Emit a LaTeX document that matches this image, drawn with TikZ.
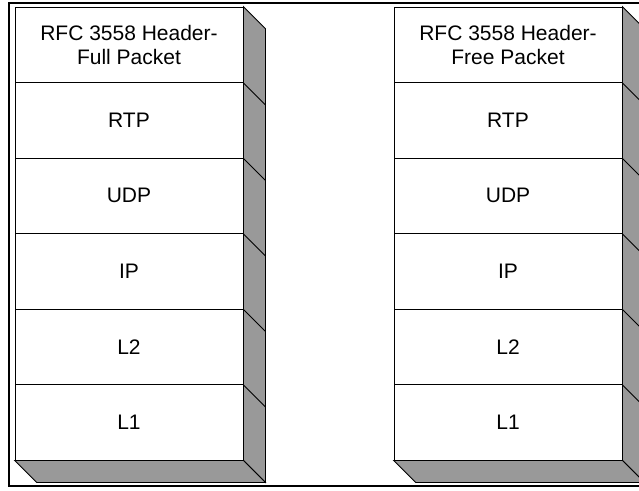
\documentclass[tikz,border=0pt]{standalone}
\usepackage{fontspec}
\setmainfont{Liberation Sans}
\usetikzlibrary{calc}
\definecolor{shade}{RGB}{153,153,153}
\tikzstyle{layer}=[shape=rectangle, draw, fill=white, minimum width=228pt, minimum height=75.5pt, inner sep=0, align=center]
\tikzstyle{side}=[draw, fill=shade]
\begin{document}
\begin{tikzpicture}[x=1pt, y=-1pt, font=\fontsize{21}{24}\selectfont, line width=.8pt]
\clip (0,0) rectangle (639,490);
\useasboundingbox (0,0) rectangle (639,490);
\draw[line width=2pt] (9,3) rectangle (660,486);
% left stack
\node at (129,44.75)[layer](l0){RFC 3558 Header-\\Full Packet};
\node at (129,120.25)[layer](l1){RTP};
\node at (129,195.75)[layer](l2){UDP};
\node at (129,271.25)[layer](l3){IP};
\node at (129,346.75)[layer](l4){L2};
\node at (129,422.25)[layer](l5){L1};
\draw[side] (l0.north east)--++(22,22)--($(l5.south east)+(22,22)$)--(l5.south east)--cycle;
\draw[side] (l5.south west)--++(22,22)--($(l5.south east)+(22,22)$)--(l5.south east)--cycle;
\draw (l0.south east)--++(22,22);
\draw (l1.south east)--++(22,22);
\draw (l2.south east)--++(22,22);
\draw (l3.south east)--++(22,22);
\draw (l4.south east)--++(22,22);
% right stack
\node at (508,44.75)[layer](r0){RFC 3558 Header-\\Free Packet};
\node at (508,120.25)[layer](r1){RTP};
\node at (508,195.75)[layer](r2){UDP};
\node at (508,271.25)[layer](r3){IP};
\node at (508,346.75)[layer](r4){L2};
\node at (508,422.25)[layer](r5){L1};
\draw[side] (r0.north east)--++(22,22)--($(r5.south east)+(22,22)$)--(r5.south east)--cycle;
\draw[side] (r5.south west)--++(22,22)--($(r5.south east)+(22,22)$)--(r5.south east)--cycle;
\draw (r0.south east)--++(22,22);
\draw (r1.south east)--++(22,22);
\draw (r2.south east)--++(22,22);
\draw (r3.south east)--++(22,22);
\draw (r4.south east)--++(22,22);
\end{tikzpicture}
\end{document}
